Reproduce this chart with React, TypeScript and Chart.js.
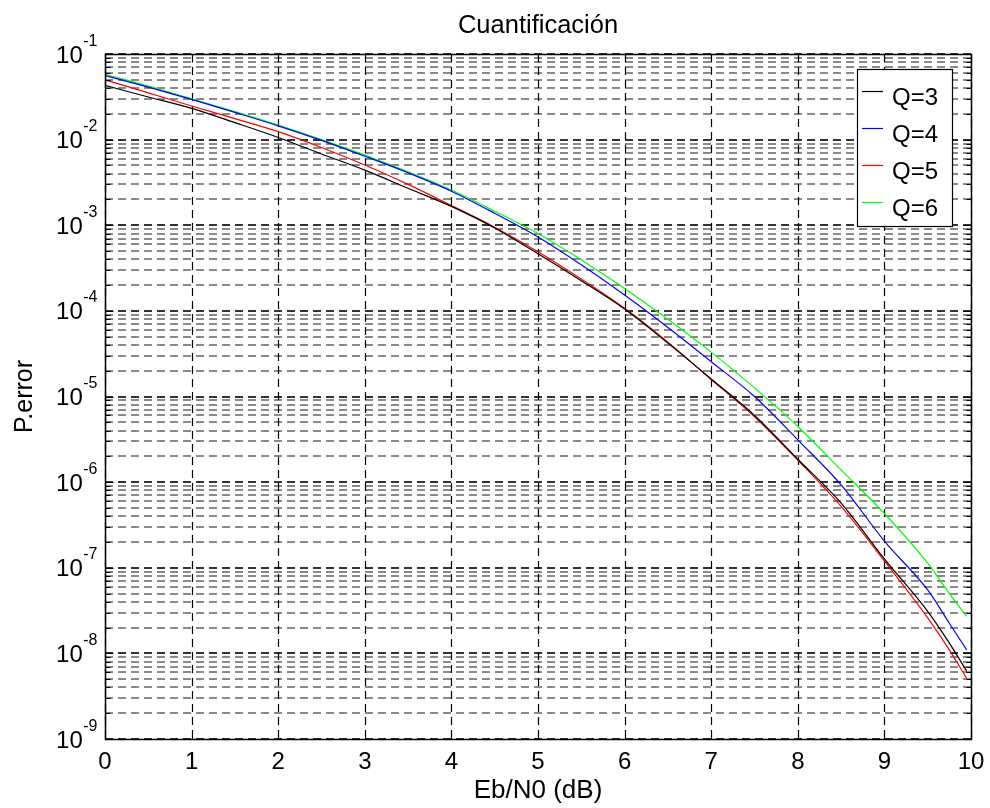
import React, { useEffect, useRef } from "react";
import { Chart, registerables } from "chart.js";

Chart.register(...registerables);

// ---- data ----
const ebn0 = [0, 0.5, 1, 1.5, 2, 2.5, 3, 3.5, 4, 4.5, 5, 5.5, 6, 6.5, 7, 7.5, 8, 8.5, 9, 9.5, 9.75, 9.95];

const q3 = [0.043, 0.0315, 0.0232, 0.0158, 0.0106, 0.0068, 0.0044, 0.0027, 0.00166, 9.3e-4, 4.65e-4, 2.25e-4, 1.05e-4, 4.2e-5, 1.6e-5, 6.0e-6, 1.85e-6, 5.7e-7, 1.27e-7, 3.1e-8, 1.32e-8, 6.2e-9];
const q4 = [0.056, 0.041, 0.0295, 0.0208, 0.0145, 0.0098, 0.0064, 0.0041, 0.0025, 0.00138, 7.3e-4, 3.45e-4, 1.53e-4, 6.4e-5, 2.55e-5, 1.0e-5, 3.12e-6, 9.3e-7, 2.05e-7, 5.5e-8, 2.25e-8, 1.1e-8];
const q5 = [0.05, 0.0352, 0.0247, 0.0176, 0.0124, 0.0081, 0.00506, 0.003, 0.0017, 9.5e-4, 4.9e-4, 2.35e-4, 1.07e-4, 4.3e-5, 1.58e-5, 5.8e-6, 1.8e-6, 5.2e-7, 1.2e-7, 2.6e-8, 1.1e-8, 5.1e-9];
const q6 = [0.058, 0.0422, 0.03, 0.0213, 0.0148, 0.01, 0.0066, 0.0042, 0.00258, 0.00146, 8.0e-4, 3.94e-4, 1.83e-4, 8.0e-5, 3.3e-5, 1.26e-5, 4.47e-6, 1.39e-6, 4.3e-7, 1.13e-7, 5.0e-8, 2.7e-8];

const seriesLabels = ["Q=3", "Q=4", "Q=5", "Q=6"];
const seriesColors = ["#000000", "#0000ff", "#ff0000", "#00ff00"];

const xTicks = [0, 1, 2, 3, 4, 5, 6, 7, 8, 9, 10];
const yDecades = [-9, -8, -7, -6, -5, -4, -3, -2, -1];
const yMinorMultipliers = [2, 3, 4, 5, 6, 7, 8, 9];

const titleText = "Cuantificación";
const xLabelText = "Eb/N0 (dB)";
const yLabelText = "P.error";

const FONT = '"Liberation Sans", Arial, Helvetica, sans-serif';

const overlayPlugin = {
  id: "matlabOverlay",
  beforeDatasetsDraw(chart: any) {
    const { ctx, chartArea: a, scales } = chart;
    const x = scales.x;
    const y = scales.y;
    ctx.save();
    // horizontal grid lines (minor, then major)
    ctx.lineWidth = 2;
    ctx.setLineDash([8, 5]);
    ctx.strokeStyle = "#8a8a8a";
    for (const d of yDecades) {
      for (const m of yMinorMultipliers) {
        const v = m * Math.pow(10, d);
        if (v >= 0.1) continue;
        const py = Math.round(y.getPixelForValue(v));
        ctx.beginPath();
        ctx.moveTo(a.left, py);
        ctx.lineTo(a.right, py);
        ctx.stroke();
      }
    }
    ctx.strokeStyle = "#333333";
    for (const d of yDecades) {
      const py = Math.round(y.getPixelForValue(Math.pow(10, d)));
      ctx.beginPath();
      ctx.moveTo(a.left, py);
      ctx.lineTo(a.right, py);
      ctx.stroke();
    }
    // vertical grid lines
    ctx.lineWidth = 1.2;
    ctx.strokeStyle = "#000000";
    ctx.setLineDash([8, 5]);
    for (const t of xTicks) {
      const px = Math.round(x.getPixelForValue(t)) + 0.5;
      ctx.beginPath();
      ctx.moveTo(px, a.top);
      ctx.lineTo(px, a.bottom);
      ctx.stroke();
    }
    ctx.restore();
  },
  afterDraw(chart: any) {
    const { ctx, chartArea: a, scales } = chart;
    const x = scales.x;
    const y = scales.y;
    ctx.save();
    ctx.setLineDash([]);
    ctx.strokeStyle = "#000";
    ctx.lineWidth = 1;
    const L = Math.round(a.left) + 0.5;
    const R = Math.round(a.right) + 0.5;
    const T = Math.round(a.top) + 0.5;
    const B = Math.round(a.bottom) + 0.5;
    // ticks
    ctx.beginPath();
    for (const t of xTicks) {
      const px = Math.round(x.getPixelForValue(t)) + 0.5;
      ctx.moveTo(px, B);
      ctx.lineTo(px, B - 8);
      ctx.moveTo(px, T);
      ctx.lineTo(px, T + 8);
    }
    for (const d of yDecades) {
      const py = Math.round(y.getPixelForValue(Math.pow(10, d))) + 0.5;
      ctx.moveTo(L, py);
      ctx.lineTo(L + 8, py);
      ctx.moveTo(R, py);
      ctx.lineTo(R - 8, py);
      for (const m of yMinorMultipliers) {
        const v = m * Math.pow(10, d);
        if (v >= 0.1) continue;
        const pm = Math.round(y.getPixelForValue(v)) + 0.5;
        ctx.moveTo(L, pm);
        ctx.lineTo(L + 5, pm);
        ctx.moveTo(R, pm);
        ctx.lineTo(R - 5, pm);
      }
    }
    ctx.stroke();
    // frame
    ctx.lineWidth = 1.5;
    ctx.strokeRect(L, T, R - L, B - T);

    ctx.fillStyle = "#000";
    // x tick labels
    ctx.font = `24px ${FONT}`;
    ctx.textAlign = "center";
    ctx.textBaseline = "alphabetic";
    for (const t of xTicks) {
      const px = x.getPixelForValue(t);
      ctx.fillText(String(t), px, 769);
    }
    // y tick labels 10^n
    for (const d of yDecades) {
      const py = y.getPixelForValue(Math.pow(10, d));
      ctx.font = `24px ${FONT}`;
      const baseW = ctx.measureText("10").width;
      ctx.font = `16px ${FONT}`;
      const expStr = String(d);
      const expW = ctx.measureText(expStr).width;
      const right = a.left - 8;
      const startX = right - expW - baseW;
      ctx.textAlign = "left";
      ctx.font = `24px ${FONT}`;
      ctx.fillText("10", startX, py + 8.5);
      ctx.font = `16px ${FONT}`;
      ctx.fillText(expStr, startX + baseW + 0.5, py - 8.5);
    }
    // title
    ctx.textAlign = "center";
    ctx.font = `25.5px ${FONT}`;
    ctx.fillText(titleText, (a.left + a.right) / 2, 33);
    // x label
    ctx.font = `26px ${FONT}`;
    ctx.fillText(xLabelText, (a.left + a.right) / 2, 798);
    // y label
    ctx.save();
    ctx.translate(31.5, (a.top + a.bottom) / 2);
    ctx.rotate(-Math.PI / 2);
    ctx.font = `25px ${FONT}`;
    ctx.fillText(yLabelText, 0, 0);
    ctx.restore();

    // legend
    const boxL = 857.5, boxT = 69.5, boxR = 952.5, boxB = 226.5;
    ctx.fillStyle = "#fff";
    ctx.fillRect(boxL, boxT, boxR - boxL, boxB - boxT);
    ctx.lineWidth = 1.2;
    ctx.strokeStyle = "#000";
    ctx.strokeRect(boxL, boxT, boxR - boxL, boxB - boxT);
    const rowY = [91.5, 128.5, 165.5, 202.5];
    ctx.font = `24px ${FONT}`;
    ctx.textAlign = "left";
    for (let i = 0; i < seriesLabels.length; i++) {
      ctx.strokeStyle = seriesColors[i];
      ctx.lineWidth = 1.2;
      ctx.beginPath();
      ctx.moveTo(862, rowY[i]);
      ctx.lineTo(883, rowY[i]);
      ctx.stroke();
      ctx.fillStyle = "#000";
      ctx.fillText(seriesLabels[i], 892, rowY[i] + 13);
    }
    ctx.restore();
  },
};

export default function App() {
  const canvasRef = useRef<HTMLCanvasElement | null>(null);

  useEffect(() => {
    const canvas = canvasRef.current;
    if (!canvas) return;
    const allSeries = [q3, q4, q5, q6];
    const chart = new Chart(canvas, {
      type: "line",
      data: {
        datasets: allSeries.map((vals, i) => ({
          label: seriesLabels[i],
          data: ebn0.map((xv, j) => ({ x: xv, y: vals[j] })),
          borderColor: seriesColors[i],
          backgroundColor: seriesColors[i],
          borderWidth: 1.2,
          pointRadius: 0,
          fill: false,
          cubicInterpolationMode: "monotone",
        })),
      },
      options: {
        animation: false,
        responsive: false,
        devicePixelRatio: 1,
        layout: { padding: { left: 105, right: 19, top: 54, bottom: 69 } },
        plugins: {
          legend: { display: false },
          title: { display: false },
          tooltip: { enabled: false },
        },
        scales: {
          x: {
            type: "linear",
            min: 0,
            max: 10,
            grid: { display: false },
            border: { display: false },
            ticks: { display: false },
            afterFit: (s: any) => {
              s.height = 0;
            },
          },
          y: {
            type: "logarithmic",
            min: 1e-9,
            max: 1e-1,
            grid: { display: false },
            border: { display: false },
            ticks: { display: false },
            afterFit: (s: any) => {
              s.width = 0;
            },
          },
        },
      },
      plugins: [overlayPlugin],
    } as any);
    return () => chart.destroy();
  }, []);

  return (
    <div style={{ position: "fixed", left: 0, top: 0, width: 990, height: 808, background: "#fff" }}>
      <canvas ref={canvasRef} width={990} height={808} style={{ display: "block" }} />
    </div>
  );
}
